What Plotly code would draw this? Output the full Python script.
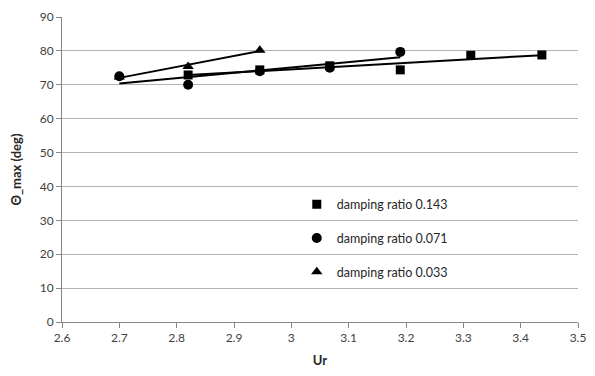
import numpy as np
import plotly.graph_objects as go

# Data
ur_143 = [2.82, 2.945, 3.067, 3.19, 3.313, 3.437]
theta_143 = [72.9, 74.4, 75.6, 74.4, 78.7, 78.8]

ur_071 = [2.70, 2.82, 2.945, 3.067, 3.19]
theta_071 = [72.5, 70.0, 74.0, 75.0, 79.7]

ur_033 = [2.70, 2.82, 2.945]
theta_033 = [72.3, 75.4, 80.2]

series_names = ["damping ratio 0.143", "damping ratio 0.071", "damping ratio 0.033"]
x_ticks = [2.6, 2.7, 2.8, 2.9, 3.0, 3.1, 3.2, 3.3, 3.4, 3.5]
x_tick_labels = ["2.6", "2.7", "2.8", "2.9", "3", "3.1", "3.2", "3.3", "3.4", "3.5"]
y_ticks = [0, 10, 20, 30, 40, 50, 60, 70, 80, 90]

FONT = "Lato, 'Open Sans', sans-serif"
fig = go.Figure()

series = [
    (ur_143, theta_143, "square", series_names[0], 9),
    (ur_071, theta_071, "circle", series_names[1], 10),
    (ur_033, theta_033, "triangle-up", series_names[2], 10),
]

# linear trendlines (least-squares, like spreadsheet trendlines)
for xs, ys, sym, name, sz in series:
    xa = np.array(xs)
    k, b = np.polyfit(xa, np.array(ys), 1)
    xl = np.array([xa.min(), xa.max()])
    fig.add_trace(go.Scatter(x=xl, y=k * xl + b, mode="lines",
                             line=dict(color="black", width=2),
                             showlegend=False, hoverinfo="skip"))

for i, (xs, ys, sym, name, sz) in enumerate(series):
    fig.add_trace(go.Scatter(x=xs, y=ys, mode="markers", name=name,
                             legendgroup=f"g{i}",
                             marker=dict(symbol=sym, size=sz, color="black")))

fig.update_layout(
    width=595, height=376,
    margin=dict(l=62, r=9, t=10, b=54),
    paper_bgcolor="white", plot_bgcolor="white",
    font=dict(family=FONT, size=12, color="#404040"),
    showlegend=True,
    legend=dict(x=0.455, y=0.434, xanchor="left", yanchor="top",
                bgcolor="rgba(0,0,0,0)", tracegroupgap=14.5,
                font=dict(family=FONT, size=12.5, color="#262626"),
                itemwidth=30, traceorder="grouped"),
    xaxis=dict(range=[2.6, 3.5], tickvals=x_ticks, ticktext=x_tick_labels,
               showgrid=False, zeroline=False, showline=True,
               linecolor="#868686", linewidth=1, ticks="outside", ticklen=5,
               tickcolor="#868686", tickfont=dict(size=12, color="#404040"),
               title=dict(text="<b>Ur</b>", font=dict(size=13, color="#262626"), standoff=11)),
    yaxis=dict(range=[0, 90], tickvals=y_ticks,
               showgrid=True, gridcolor="#b3b3b3", gridwidth=1,
               zeroline=False, showline=True,
               linecolor="#868686", linewidth=1, ticks="outside", ticklen=5,
               tickcolor="#868686", tickfont=dict(size=12, color="#404040"),
               title=dict(text="<b>Θ_max (deg)</b>", font=dict(size=13, color="#262626"), standoff=15)),
)

fig.write_html("out.html")
